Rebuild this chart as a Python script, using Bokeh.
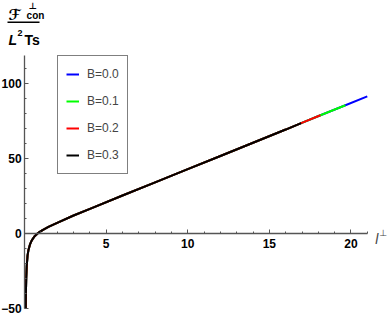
from bokeh.plotting import figure
from bokeh.models import (Range1d, LinearAxis, FixedTicker, Legend, LegendItem,
                          Label, BoxAnnotation)
from bokeh.embed import file_html
from bokeh.resources import INLINE

# ---- data ----
l_pts = [0.07, 0.08, 0.10, 0.13, 0.18, 0.24, 0.33, 0.44, 0.60, 0.81, 1.10, 1.46,
         2.03, 3.00, 4.08, 6.00, 8.00, 10.0, 12.0, 14.0, 16.0, 16.95, 18.13, 19.66, 21.0]
F_pts = [-50.0, -40.0, -30.0, -22.0, -15.0, -11.0, -7.5, -4.8, -2.2, 0.0, 2.1, 4.2,
         7.1, 11.8, 16.6, 25.1, 33.9, 42.7, 51.5, 60.3, 69.1, 73.4, 78.6, 85.3, 91.2]
B_labels = ["B=0.0", "B=0.1", "B=0.2", "B=0.3"]
l_end = [21.0, 19.66, 18.13, 16.95]
colors = ["#0000ff", "#00ff00", "#ff0000", "#000000"]

x_ticks = [5, 10, 15, 20]
x_minor = [1, 2, 3, 4, 6, 7, 8, 9, 11, 12, 13, 14, 16, 17, 18, 19, 21]
y_ticks = [-50, 0, 50, 100]
y_minor = [-40, -30, -20, -10, 10, 20, 30, 40, 60, 70, 80, 90, 110]

FONT = "Liberation Sans"

# frame covers the whole canvas; axes are drawn through the origin
p = figure(width=388, height=319, output_backend="svg", toolbar_location=None,
           x_range=Range1d(-1.477, 22.30), y_range=Range1d(-57.53, 155.13),
           x_axis_location=None, y_axis_location=None,
           min_border_left=0, min_border_right=0, min_border_top=0,
           min_border_bottom=0)
p.grid.visible = False
p.outline_line_color = None
p.background_fill_color = "white"
p.border_fill_color = "white"

AX = "#555555"

def style(ax):
    ax.axis_line_color = AX
    ax.axis_line_width = 1.3
    ax.major_tick_line_color = AX
    ax.minor_tick_line_color = AX
    ax.major_tick_in = 4
    ax.major_tick_out = 0
    ax.minor_tick_in = 2
    ax.minor_tick_out = 0
    ax.major_label_text_font = FONT
    ax.major_label_text_font_style = "bold"
    ax.major_label_text_font_size = "12px"
    ax.major_label_text_color = "black"

yax = LinearAxis(ticker=FixedTicker(ticks=y_ticks, minor_ticks=y_minor),
                 fixed_location=0, bounds=(-50.3, 118.5))
style(yax)
yax.major_label_standoff = 3
p.add_layout(yax, "left")

xax = LinearAxis(ticker=FixedTicker(ticks=x_ticks, minor_ticks=x_minor),
                 fixed_location=0, bounds=(0, 21.0))
style(xax)
xax.major_label_standoff = 6
p.add_layout(xax, "below")

renderers = []
for lab, le, c in zip(B_labels, l_end, colors):
    xs = [a for a in l_pts if a <= le + 1e-9]
    ys = F_pts[:len(xs)]
    r = p.line(xs, ys, line_color=c, line_width=2)
    renderers.append(r)

legend = Legend(items=[LegendItem(label=lab, renderers=[r]) for lab, r in zip(B_labels, renderers)],
                location=(57, 145), margin=0, padding=8, spacing=7,
                glyph_width=13, glyph_height=20, label_standoff=8,
                label_text_font=FONT, label_text_font_size="12px",
                border_line_color="black", border_line_width=1,
                background_fill_color="white", background_fill_alpha=1)
p.add_layout(legend, "center")

# y-axis title (fraction)
def lab(text, xo, yo, size, style="bold", font=FONT):
    p.add_layout(Label(x=0, y=118.5, x_offset=xo, y_offset=yo, text=text,
                       text_font=font, text_font_size=size, text_font_style=style,
                       text_baseline="alphabetic", text_align="left", text_color="black"))

lab("\u2131", -16, 40, "15px", "bold", "DejaVu Sans")
lab("\u22a5", 4, 49, "9px", "bold", "DejaVu Sans")
lab("con", 2, 39.5, "10px")
lab("L", -16, 15, "14px", "bold italic")
lab("2", -7, 22, "9px")
lab("Ts", 0, 15, "14px")
p.add_layout(BoxAnnotation(left=-1.048, right=0.913, bottom=140.1, top=141.1,
                           fill_color="black", fill_alpha=1, line_color=None))

# x-axis label
p.add_layout(Label(x=21.0, y=0, x_offset=8, y_offset=-5.5, text="l",
                   text_font=FONT, text_font_size="14px", text_font_style="italic",
                   text_baseline="alphabetic"))
p.add_layout(Label(x=21.0, y=0, x_offset=12, y_offset=0.5, text="\u22a5",
                   text_font="DejaVu Sans", text_font_size="9px",
                   text_baseline="alphabetic"))

open("out.html", "w").write(file_html(p, INLINE))
